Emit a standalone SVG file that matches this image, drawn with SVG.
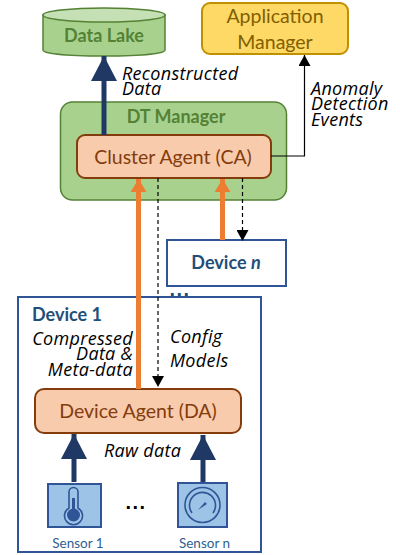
<svg xmlns="http://www.w3.org/2000/svg" width="400" height="555" viewBox="0 0 400 555">
<style>
text{font-family:"Lato","Liberation Sans",sans-serif}
.lab{font-family:"Open Sans","Liberation Sans",sans-serif;font-style:italic;font-size:18px;letter-spacing:.3px;fill:#000}
.navy{fill:none;stroke:#1f3864;stroke-width:5}
.orange{fill:none;stroke:#ed7d31;stroke-width:5}
.dash{fill:none;stroke:#000;stroke-width:1.2;stroke-dasharray:4 3}
.agent{fill:#f8cbad;stroke:#843c0c;stroke-width:2}
.agentT{font-size:19.500px;fill:#843c0c;text-anchor:middle}
.dev{fill:#fff;stroke:#2f5597;stroke-width:2}
.devT{font-size:18px;font-weight:700;fill:#1f4e79}
.sens{fill:#9dc3e6;stroke:#2f5597;stroke-width:2}
.sensT{font-size:13.500px;fill:#2f5f8f;text-anchor:middle}
.ico{fill:none;stroke:#2f5597;stroke-width:1.6}
.dots{font-family:"Liberation Sans",sans-serif;font-size:20px;font-weight:700;letter-spacing:1.500px;text-anchor:middle}
</style>
<defs>
<marker id="mNavy" markerUnits="userSpaceOnUse" markerWidth="26" markerHeight="26" refX="25" refY="13" orient="auto"><path d="M0 0L25 13L0 26Z" fill="#1f3864"/></marker>
<marker id="mOrange" markerUnits="userSpaceOnUse" markerWidth="14" markerHeight="16" refX="13" refY="8" orient="auto"><path d="M0 0L13 8L0 16Z" fill="#ed7d31"/></marker>
<marker id="mBlack" markerUnits="userSpaceOnUse" markerWidth="12" markerHeight="12" refX="11" refY="6" orient="auto"><path d="M0 0L11 6L0 12Z" fill="#000"/></marker>
</defs>
<g id="device-1"><rect class="dev" x="18" y="297" width="243" height="255"/><text class="devT" x="32" y="321">Device 1</text></g>
<g id="dt-manager"><rect x="60.500" y="102" width="226" height="98" rx="12" fill="#a9d18e" stroke="#548235" stroke-width="1.500"/><text x="176" y="123" font-size="18" font-weight="700" fill="#548235" text-anchor="middle">DT Manager</text></g>
<g id="data-lake"><path d="M43 15V50C43 54 70 56 104 56S165 54 165 50V15Z" fill="#a9d18e" stroke="#548235" stroke-width="1.500"/><ellipse cx="104" cy="15" rx="61" ry="7" fill="#c5e0b4" stroke="#548235" stroke-width="1.500"/><text x="104" y="42" font-size="18" font-weight="700" fill="#548235" text-anchor="middle">Data Lake</text></g>
<g id="application-manager"><rect x="202" y="3" width="146" height="51" rx="8" fill="#ffd966" stroke="#bf9000" stroke-width="2"/><text x="275" y="23" font-size="19.500" fill="#7f6000" text-anchor="middle">Application</text><text x="275" y="49" font-size="19.500" fill="#7f6000" text-anchor="middle">Manager</text></g>
<g id="cluster-agent"><rect class="agent" x="77" y="135" width="194" height="43" rx="8"/><text class="agentT" x="173" y="164">Cluster Agent (CA)</text></g>
<g id="device-n"><rect class="dev" x="167" y="240" width="119" height="46"/><text class="devT" x="226" y="269" text-anchor="middle">Device <tspan font-style="italic">n</tspan></text></g>
<g id="device-agent"><rect class="agent" x="35" y="389" width="206" height="44" rx="9"/><text class="agentT" x="138" y="418">Device Agent (DA)</text></g>
<g id="sensor-1"><rect class="sens" x="48" y="484" width="53" height="43"/><path class="ico" d="M69 508V492a4.500 4.500 0 0 1 9 0V508a9 9 0 1 1-9 0Z"/><circle cx="73.500" cy="515" r="6.500" fill="#2f5597"/><rect x="72" y="498" width="3" height="14" fill="#2f5597"/><text class="sensT" x="78" y="548">Sensor 1</text></g>
<g id="sensor-n"><rect class="sens" x="178" y="483" width="49" height="44"/><circle class="ico" cx="202.500" cy="505" r="17.500" stroke-width="2"/><path class="ico" d="M192 513A13 13 0 1 1 213 513"/><path d="M198 510L205 502L207 504Z" fill="#2f5597"/><text class="sensT" x="204.500" y="548">Sensor n</text></g>
<g id="connectors">
<path class="navy" d="M104 135V56" marker-end="url(#mNavy)"/>
<path class="navy" d="M74 482V434" marker-end="url(#mNavy)"/>
<path class="navy" d="M203 482V435" marker-end="url(#mNavy)"/>
<path class="orange" d="M138.500 389V179" marker-end="url(#mOrange)"/>
<path class="orange" d="M222.500 240V179" marker-end="url(#mOrange)"/>
<path class="dash" d="M158 178V387" marker-end="url(#mBlack)"/>
<path class="dash" d="M242.500 178V241" marker-end="url(#mBlack)"/>
<path d="M271 156H304.500V55" fill="none" stroke="#000" stroke-width="1.200" marker-end="url(#mBlack)"/>
</g>
<g id="labels">
<text class="lab" x="122" y="80">Reconstructed</text><text class="lab" x="122" y="95">Data</text>
<text class="lab" x="311" y="95">Anomaly</text><text class="lab" x="311" y="110">Detection</text><text class="lab" x="311" y="126">Events</text>
<text class="lab" x="133" y="345" text-anchor="end">Compressed</text><text class="lab" x="133" y="360" text-anchor="end">Data &amp;</text><text class="lab" x="133" y="376" text-anchor="end">Meta-data</text>
<text class="lab" x="170" y="343">Config</text><text class="lab" x="170" y="367">Models</text>
<text class="lab" x="104" y="457">Raw data</text>
<text class="dots" x="180" y="296" fill="#1f4e79">...</text>
<text class="dots" x="136" y="509" fill="#000">...</text>
</g>
</svg>
